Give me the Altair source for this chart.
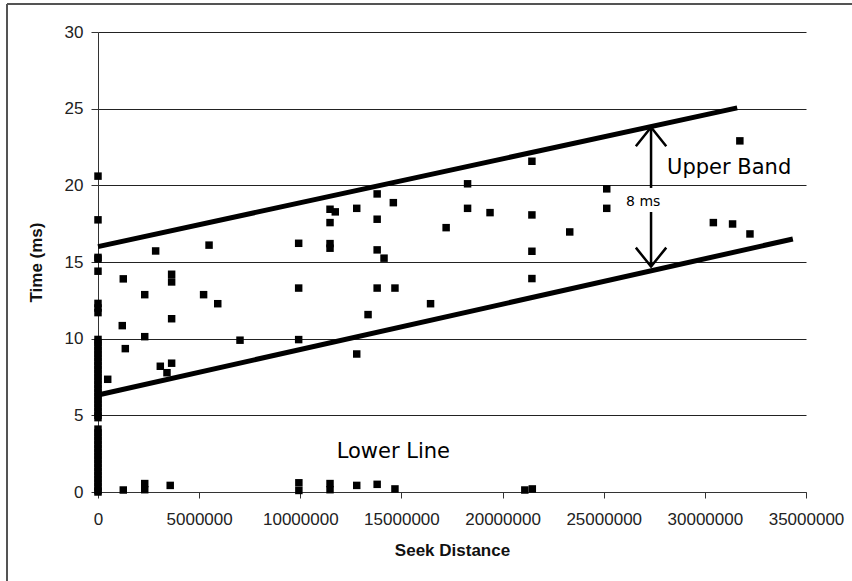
import altair as alt
import pandas as pd

# ---------------- data (time in ms, seek distance in millions of units) ----------------
# points sitting on seek distance 0 (form the solid column)
zero_y = [20.6, 17.75, 15.3, 15.2, 14.4, 12.3, 12.0, 11.7,
          9.95, 9.75, 9.5, 9.25, 9.0, 8.75, 8.5, 8.25, 8.0, 7.75, 7.5, 7.25,
          7.0, 6.75, 6.5, 6.25, 6.0, 5.75, 5.5, 5.25, 5.0, 4.85,
          4.1, 3.85, 3.6, 3.35, 3.1, 2.85, 2.6, 2.35, 2.1, 1.85, 1.6, 1.35,
          1.1, 0.85, 0.6, 0.35, 0.1, 0.0]

pts_x_m = [0.48, 1.2, 1.25, 1.35, 1.25, 2.31, 2.31, 2.31, 2.31, 2.85,
           3.08, 3.41, 3.64, 3.64, 3.64, 3.64, 3.57, 5.22, 5.49, 5.92,
           7.02, 9.92, 9.92, 9.92, 9.93, 9.93, 11.47, 11.47, 11.47, 11.47,
           11.73, 11.47, 11.47, 12.79, 12.79, 12.79, 13.35, 13.8, 13.8, 13.8,
           13.8, 13.8, 14.14, 14.6, 14.68, 14.68, 16.44, 17.21, 18.27, 18.27,
           19.38, 21.1, 21.47, 21.45, 21.45, 21.45, 21.45, 23.32, 25.15, 25.15,
           30.42, 31.37, 32.23, 31.73]
pts_y = [7.35, 10.85, 13.9, 9.35, 0.13, 12.87, 10.13, 0.15, 0.55, 15.72,
         8.2, 7.78, 8.4, 11.3, 13.7, 14.2, 0.43, 12.87, 16.1, 12.28,
         9.9, 9.94, 13.3, 16.22, 0.1, 0.6, 15.9, 16.2, 17.57, 18.44,
         18.27, 0.15, 0.55, 18.5, 9.0, 0.43, 11.57, 19.44, 17.79, 15.79,
         13.3, 0.5, 15.25, 18.87, 13.3, 0.2, 12.28, 17.24, 20.1, 18.5,
         18.22, 0.13, 0.2, 21.57, 18.07, 15.7, 13.92, 16.96, 19.77, 18.5,
         17.57, 17.48, 16.83, 22.9]

# band lines
band_names = ["upper", "upper", "lower", "lower"]
band_x_m = [0.0, 31.6, 0.0, 34.35]
band_y = [16.0, 25.05, 6.33, 16.5]

# 8 ms arrow
arrow_x_m = [27.34, 27.34]
arrow_y_start = [23.79, 18.26]
arrow_y_end = [19.83, 14.7]
head_up_y = [23.79]
head_down_y = [14.7]

# annotations
labels = ["Upper Band", "Lower Line", "8 ms"]
label_x_m = [31.2, 14.6, 26.95]
label_y = [20.72, 2.2, 18.66]
label_size = [21, 21, 14]

x_ticks = [0, 5000000, 10000000, 15000000, 20000000, 25000000, 30000000, 35000000]
y_ticks = [0, 5, 10, 15, 20, 25, 30]

M = 1000000
pts = pd.DataFrame({
    "dist": [0.0] * len(zero_y) + [v * M for v in pts_x_m],
    "time": zero_y + pts_y,
})
bands = pd.DataFrame({"band": band_names, "dist": [v * M for v in band_x_m], "time": band_y})
arrow = pd.DataFrame({"dist": [v * M for v in arrow_x_m], "y1": arrow_y_start, "y2": arrow_y_end})
head_up = pd.DataFrame({"dist": [arrow_x_m[0] * M], "time": head_up_y})
head_down = pd.DataFrame({"dist": [arrow_x_m[0] * M], "time": head_down_y})
ann = pd.DataFrame({"label": labels, "dist": [v * M for v in label_x_m],
                    "time": label_y, "size": label_size})

xs = alt.Scale(domain=[0, 35000000], nice=False, zero=False)
ys = alt.Scale(domain=[0, 30], nice=False)
xaxis = alt.Axis(values=x_ticks, format="d", grid=False, title="Seek Distance",
                 tickSize=6, labelPadding=13, titleY=50, titleBaseline="top",
                 labelOverlap=False, labelFlush=False, labelBound=False)
yaxis = alt.Axis(values=y_ticks, grid=True, title="Time (ms)", tickSize=7,
                 labelPadding=8, titleX=-53, titleAngle=-90,
                 labelOverlap=False, labelFlush=False, labelBound=False)


def X(field="dist"):
    return alt.X(field, type="quantitative", scale=xs, axis=xaxis)


def Y(field="time"):
    return alt.Y(field, type="quantitative", scale=ys, axis=yaxis)


lines = alt.Chart(bands).mark_line(strokeWidth=5, color="black", strokeCap="butt").encode(
    x=X(), y=Y(), detail="band:N")

points = alt.Chart(pts).mark_point(shape="square", filled=True, size=56,
                                   color="black", opacity=1).encode(x=X(), y=Y())

arrow_rules = alt.Chart(arrow).mark_rule(strokeWidth=2.5, color="black").encode(
    x=X(), y=Y("y1"), y2="y2:Q")

up = alt.Chart(head_up).mark_point(shape="M -0.8 1 L 0 0 L 0.8 1", filled=False,
                                   size=1444, strokeWidth=2.5, color="black",
                                   opacity=1).encode(x=X(), y=Y())
down = alt.Chart(head_down).mark_point(shape="M -0.8 -1 L 0 0 L 0.8 -1", filled=False,
                                       size=1444, strokeWidth=2.5, color="black",
                                       opacity=1).encode(x=X(), y=Y())

texts = alt.Chart(ann).mark_text(font="DejaVu Sans", color="black", align="center",
                                 baseline="alphabetic").encode(
    x=X(), y=Y(), text="label:N", size=alt.Size("size:Q", scale=None, legend=None))

frame_left = alt.Chart(pts).mark_rule(color="#555", strokeWidth=1.5).encode(
    x=alt.value(-91), y=alt.value(-28), y2=alt.value(549))
frame_top = alt.Chart(pts).mark_rule(color="#555", strokeWidth=1.5).encode(
    x=alt.value(-91), x2=alt.value(754), y=alt.value(-28))

chart = alt.layer(
    lines, points, arrow_rules, up, down, texts, frame_left, frame_top
).properties(
    width=708, height=460,
    autosize=alt.AutoSizeParams(type="none"),
    padding={"left": 98, "top": 32, "right": 46, "bottom": 89},
    background="white",
).configure_view(strokeWidth=0).configure_axis(
    labelFont="Liberation Sans", labelFontSize=17, labelColor="#222",
    titleFont="Liberation Sans", titleFontSize=17, titleFontWeight="bold", titleColor="#111",
    domainColor="#333", tickColor="#333", gridColor="#222", gridWidth=1, domainWidth=1,
)

chart.save("out.html", embed_options={"renderer": "svg", "actions": False})
